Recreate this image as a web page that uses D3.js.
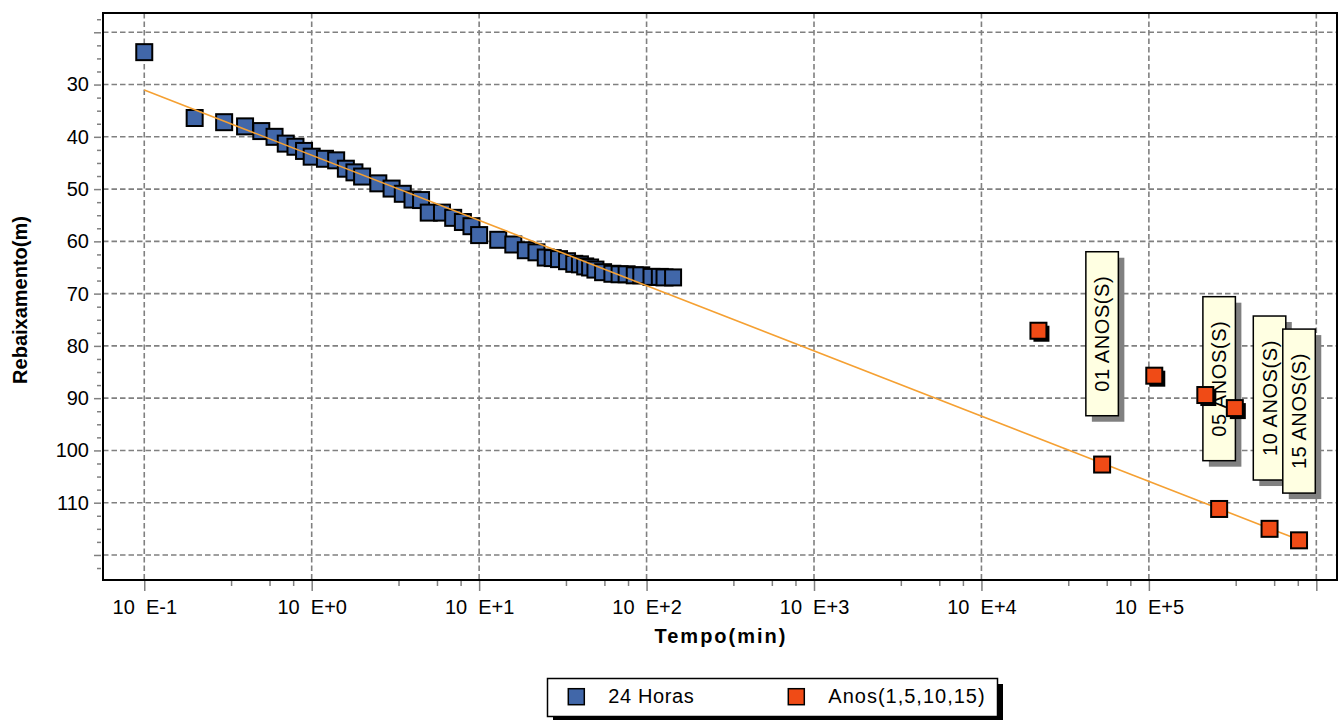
<!DOCTYPE html>
<html>
<head>
<meta charset="utf-8">
<script src="https://cdn.jsdelivr.net/npm/d3@7"></script>
<style>
  html, body { margin: 0; padding: 0; background: #fff; }
  svg { display: block; font-family: "Liberation Sans", Arial, sans-serif; }
</style>
</head>
<body>
<svg id="chart" width="1338" height="720"></svg>
<script>
// Ensaio de 24 horas: tempo (min) x rebaixamento (m)
const horasTempo = [0.1, 0.2, 0.3, 0.4, 0.5, 0.6, 0.7, 0.8, 0.9, 1.0,
  1.2, 1.4, 1.6, 1.8, 2.0, 2.5, 3.0, 3.5, 4.0, 4.5, 5.0, 6.0, 7.0, 8.0, 9.0, 10,
  13, 16, 19, 22, 25, 27.5, 30, 33.5, 37, 40, 43, 46, 49.5, 55, 62.5, 69, 76, 85, 93, 107, 120, 128, 144];
const horasRebaix = [23.8, 36.4, 37.2, 38.0, 38.9, 40.0, 41.3, 41.9, 42.7, 43.8,
  44.2, 44.5, 46.1, 46.8, 47.6, 48.9, 49.9, 50.9, 52.0, 52.1, 54.5, 54.5, 55.5, 56.3, 57.1, 58.8,
  59.7, 60.6, 61.7, 62.1, 63.1, 63.2, 63.4, 63.8, 64.3, 64.4, 64.8, 65.0, 65.4, 65.9, 66.2, 66.3,
  66.3, 66.5, 66.5, 66.8, 66.8, 66.9, 66.9];

// Projeção para 1, 5, 10 e 15 anos (sobre a reta)
const anosTempo = [52560, 262800, 525600, 788400];
const anosRebaix = [102.7, 111.2, 115.0, 117.2];
// Pontos complementares de cada horizonte
const anosTempoB = [21900, 107700, 217300, 326000];
const anosRebaixB = [77.1, 85.7, 89.4, 91.9];
const anosRotulos = ["01 ANOS(S)", "05 ANOS(S)", "10 ANOS(S)", "15 ANOS(S)"];

// Reta de ajuste: s = a + b*log10(t)
const retaA = 43.52;
const retaB = 12.48;
const retaTempo = [0.1, 788400];

// Eixos
const xTicks = [0.1, 1, 10, 100, 1e3, 1e4, 1e5, 1e6];
const xTickLabels = ["10  E-1", "10  E+0", "10  E+1", "10  E+2", "10  E+3", "10  E+4", "10  E+5", ""];
const xMinorMult = [3.3, 5.6, 7.75];
const yGrid = [20, 30, 40, 50, 60, 70, 80, 90, 100, 110, 120];
const yLabels = [30, 40, 50, 60, 70, 80, 90, 100, 110];

const svg = d3.select("#chart");
const L = 103, R = 1337, T = 13, B = 580;

const x = d3.scaleLog().domain([0.0567, 1.329e6]).range([L, R]);
const y = d3.scaleLinear().domain([16.31, 124.79]).range([T, B]);

const gridColor = "#808080";

// grade
const grid = svg.append("g");
grid.selectAll("line.h").data(yGrid).join("line")
  .attr("x1", L).attr("x2", R)
  .attr("y1", d => y(d)).attr("y2", d => y(d))
  .attr("stroke", gridColor).attr("stroke-width", 1.6).attr("stroke-dasharray", "5.5,3");
grid.selectAll("line.v").data(xTicks).join("line")
  .attr("x1", d => x(d)).attr("x2", d => x(d))
  .attr("y1", T).attr("y2", B)
  .attr("stroke", gridColor).attr("stroke-width", 1.6).attr("stroke-dasharray", "5.5,3");

// ensaio 24 horas
const sq = 16;
svg.append("g").selectAll("rect").data(horasTempo.map((t, i) => [t, horasRebaix[i]])).join("rect")
  .attr("x", d => x(d[0]) - sq / 2).attr("y", d => y(d[1]) - sq / 2)
  .attr("width", sq).attr("height", sq)
  .attr("fill", "#4167a9").attr("stroke", "#000").attr("stroke-width", 2);

// reta de ajuste
const reta = d3.line().x(d => x(d)).y(d => y(retaA + retaB * Math.log10(d)));
svg.append("path").datum(retaTempo).attr("d", reta)
  .attr("fill", "none").attr("stroke", "#f5a032").attr("stroke-width", 1.6);

// caixas de rótulo
const bw = 32.5, bh = 164;
const caixas = svg.append("g");
anosRotulos.forEach((txt, i) => {
  const cx = x(anosTempo[i]);
  const cy = y(anosRebaixB[i]) + 3;
  const g = caixas.append("g");
  g.append("rect").attr("x", cx - bw / 2 + 6).attr("y", cy - bh / 2 + 6)
    .attr("width", bw).attr("height", bh).attr("fill", "#808080");
  g.append("rect").attr("x", cx - bw / 2).attr("y", cy - bh / 2)
    .attr("width", bw).attr("height", bh)
    .attr("fill", "#ffffe2").attr("stroke", "#000").attr("stroke-width", 1.5);
  g.append("text").attr("transform", `translate(${cx},${cy}) rotate(-90)`)
    .attr("text-anchor", "middle").attr("dy", "0.36em")
    .attr("font-size", 20).attr("letter-spacing", 0.6).attr("fill", "#000").text(txt);
});

// pontos complementares (com sombra)
const redFill = "#f04b16";
const rb = svg.append("g");
rb.selectAll("rect.s").data(anosTempoB.map((t, i) => [t, anosRebaixB[i]])).join("rect")
  .attr("x", d => x(d[0]) - sq / 2 + 3).attr("y", d => y(d[1]) - sq / 2 + 3)
  .attr("width", sq).attr("height", sq).attr("fill", "#000");
rb.selectAll("rect.p").data(anosTempoB.map((t, i) => [t, anosRebaixB[i]])).join("rect")
  .attr("x", d => x(d[0]) - sq / 2).attr("y", d => y(d[1]) - sq / 2)
  .attr("width", sq).attr("height", sq)
  .attr("fill", redFill).attr("stroke", "#000").attr("stroke-width", 2);

// projeções sobre a reta
svg.append("g").selectAll("rect").data(anosTempo.map((t, i) => [t, anosRebaix[i]])).join("rect")
  .attr("x", d => x(d[0]) - sq / 2).attr("y", d => y(d[1]) - sq / 2)
  .attr("width", sq).attr("height", sq)
  .attr("fill", redFill).attr("stroke", "#000").attr("stroke-width", 2);

// moldura
svg.append("rect").attr("x", L).attr("y", T).attr("width", R - L).attr("height", B - T)
  .attr("fill", "none").attr("stroke", "#000").attr("stroke-width", 2);

// eixo Y
const yAxis = svg.append("g").attr("transform", `translate(${L - 2},0)`)
  .call(d3.axisLeft(y).tickValues(yGrid).tickSize(7).tickPadding(5)
    .tickFormat(d => yLabels.includes(d) ? d : ""));
const yMinor = d3.range(17.5, 124, 2.5).filter(v => v % 10 !== 0);
const yAxisMinor = svg.append("g").attr("transform", `translate(${L - 2},0)`)
  .call(d3.axisLeft(y).tickValues(yMinor).tickSize(4).tickFormat(""));

// eixo X
const xAxis = svg.append("g").attr("transform", `translate(0,${B + 1})`)
  .call(d3.axisBottom(x).tickValues(xTicks).tickSize(10).tickPadding(9)
    .tickFormat((d, i) => xTickLabels[i]));
const xMinor = [];
xTicks.forEach(t => xMinorMult.forEach(m => { if (t * m < x.domain()[1]) xMinor.push(t * m); }));
const xAxisMinor = svg.append("g").attr("transform", `translate(0,${B + 1})`)
  .call(d3.axisBottom(x).tickValues(xMinor).tickSize(5).tickFormat(""));

[yAxis, yAxisMinor, xAxis, xAxisMinor].forEach(a => {
  a.select(".domain").remove();
  a.selectAll(".tick line").attr("stroke", gridColor).attr("stroke-width", 1.5);
  a.selectAll(".tick text").attr("font-size", 20).attr("fill", "#000")
    .attr("font-family", "'Liberation Sans', Arial, sans-serif")
    .style("white-space", "pre");
});

// títulos dos eixos
svg.append("text").attr("transform", "translate(27,300) rotate(-90)")
  .attr("text-anchor", "middle").attr("font-size", 20).attr("font-weight", "bold")
  .text("Rebaixamento(m)");
svg.append("text").attr("x", 721).attr("y", 643)
  .attr("text-anchor", "middle").attr("font-size", 20).attr("font-weight", "bold")
  .attr("letter-spacing", 2).text("Tempo(min)");

// legenda
const leg = svg.append("g");
leg.append("rect").attr("x", 553).attr("y", 684).attr("width", 450).attr("height", 38).attr("fill", "#000");
leg.append("rect").attr("x", 547.5).attr("y", 678.5).attr("width", 450).attr("height", 38)
  .attr("fill", "#fff").attr("stroke", "#000").attr("stroke-width", 1.5);
const legItems = [
  { label: "24 Horas", fill: "#4167a9", sx: 576.3, tx: 608.3, ls: 0.6 },
  { label: "Anos(1,5,10,15)", fill: redFill, sx: 796.3, tx: 828.3, ls: 1.0 }
];
legItems.forEach(it => {
  leg.append("rect").attr("x", it.sx - 8).attr("y", 688.7).attr("width", 16).attr("height", 16)
    .attr("fill", it.fill).attr("stroke", "#000").attr("stroke-width", 1.5);
  leg.append("text").attr("x", it.tx).attr("y", 703).attr("font-size", 20)
    .attr("letter-spacing", it.ls).text(it.label);
});
</script>
</body>
</html>
